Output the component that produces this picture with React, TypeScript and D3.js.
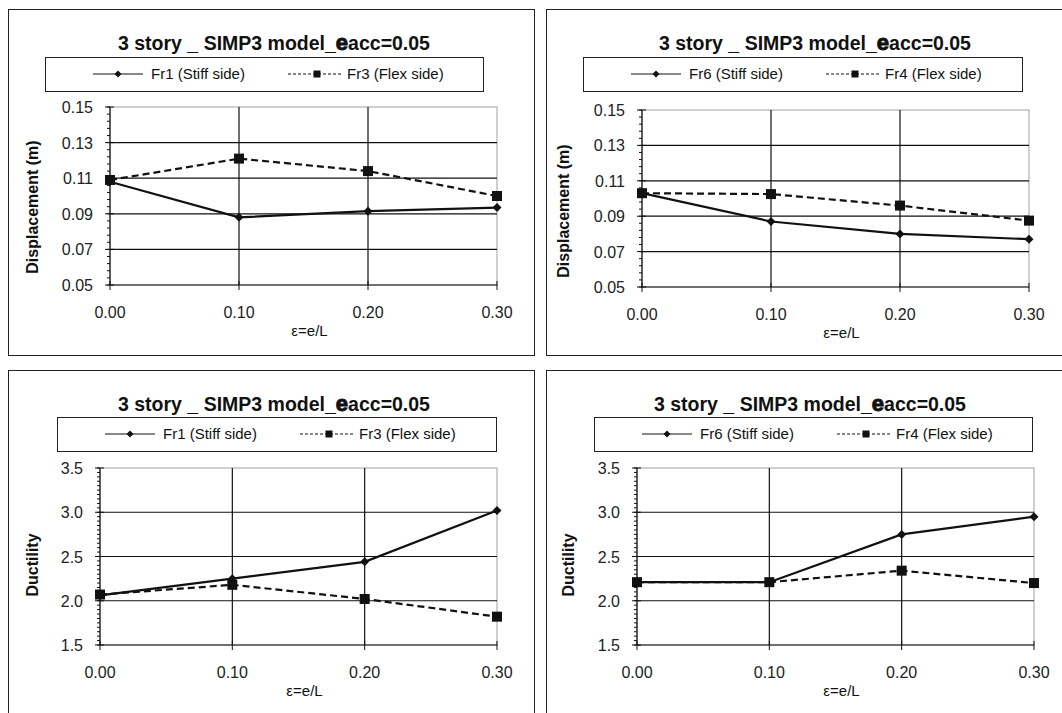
import React from "react";
import { scaleLinear, line, range } from "d3";

const eps = [0, 0.1, 0.2, 0.3];
const xTickLabels = ["0.00", "0.10", "0.20", "0.30"];

const dispTicks = [0.05, 0.07, 0.09, 0.11, 0.13, 0.15];
const ductTicks = [1.5, 2.0, 2.5, 3.0, 3.5];

const dispFr1 = [0.108, 0.088, 0.0915, 0.0935];
const dispFr3 = [0.109, 0.121, 0.114, 0.1];
const dispFr6 = [0.103, 0.087, 0.08, 0.077];
const dispFr4 = [0.103, 0.1025, 0.096, 0.0875];

const ductFr1 = [2.06, 2.25, 2.44, 3.02];
const ductFr3 = [2.07, 2.18, 2.02, 1.82];
const ductFr6 = [2.21, 2.21, 2.75, 2.95];
const ductFr4 = [2.21, 2.21, 2.34, 2.2];

const FONT = "'Liberation Sans', Arial, sans-serif";

interface PanelProps {
  box: { x: number; y: number; w: number; h: number };
  titleX: number;
  legend: { x: number; y: number; w: number; h: number };
  plot: { left: number; right: number; top: number; bottom: number };
  yTicks: number[];
  yFmt: (v: number) => string;
  minorStep: number;
  yTitle: string;
  yTitleX: number;
  yTitleY: number;
  stiffName: string;
  flexName: string;
  stiff: number[];
  flex: number[];
}

const Panel: React.FC<PanelProps> = ({
  box,
  titleX,
  legend,
  plot,
  yTicks,
  yFmt,
  minorStep,
  yTitle,
  yTitleX,
  yTitleY,
  stiffName,
  flexName,
  stiff,
  flex,
}) => {
  const x = scaleLinear().domain([0, 0.3]).range([plot.left, plot.right]);
  const y = scaleLinear()
    .domain([yTicks[0], yTicks[yTicks.length - 1]])
    .range([plot.bottom, plot.top]);

  const lineGen = line<number>()
    .x((_, i) => x(eps[i]))
    .y((d) => y(d));

  const minors = range(yTicks[0], yTicks[yTicks.length - 1] + minorStep / 2, minorStep);
  const ly = legend.y + legend.h / 2;

  return (
    <g fontFamily={FONT}>
      <rect x={box.x + 0.5} y={box.y + 0.5} width={box.w} height={box.h} fill="white" stroke="#222" />
      <text x={titleX} y={box.y + 41} textAnchor="middle" fontSize={19.5} fontWeight="bold" fill="#111">
        3 story _ SIMP3 model_
        <tspan fontSize={22} stroke="#111" strokeWidth={1}>e</tspan>
        acc=0.05
      </text>

      <rect x={legend.x + 0.5} y={legend.y + 0.5} width={legend.w} height={legend.h} fill="white" stroke="#222" />
      <line x1={legend.x + 48} x2={legend.x + 98} y1={ly} y2={ly} stroke="#111" strokeWidth={1.2} />
      <path d={`M${legend.x + 73},${ly - 3.5}l3.5,3.5l-3.5,3.5l-3.5,-3.5z`} fill="#111" />
      <text x={legend.x + 106} y={ly + 5} fontSize={15} fill="#111">{stiffName}</text>
      <line x1={legend.x + 243} x2={legend.x + 298} y1={ly} y2={ly} stroke="#111" strokeWidth={1.2} strokeDasharray="3,2" />
      <rect x={legend.x + 268.5} y={ly - 3.5} width={7} height={7} fill="#111" />
      <text x={legend.x + 302} y={ly + 5} fontSize={15} fill="#111">{flexName}</text>

      {/* plot area border */}
      <rect x={plot.left} y={plot.top} width={plot.right - plot.left} height={plot.bottom - plot.top} fill="none" stroke="#a0a0a0" />
      {yTicks.slice(1, -1).map((t) => (
        <line key={t} x1={plot.left} x2={plot.right} y1={y(t)} y2={y(t)} stroke="#111" strokeWidth={1.2} />
      ))}
      {eps.slice(1, -1).map((e) => (
        <line key={e} x1={x(e)} x2={x(e)} y1={plot.top} y2={plot.bottom} stroke="#111" strokeWidth={1.2} />
      ))}

      {/* axes */}
      <line x1={plot.left} x2={plot.left} y1={plot.top} y2={plot.bottom} stroke="#111" strokeWidth={1.2} />
      <line x1={plot.left} x2={plot.right} y1={plot.bottom} y2={plot.bottom} stroke="#111" strokeWidth={1.2} />
      {minors.map((m, i) => (
        <line key={i} x1={plot.left - 3} x2={plot.left} y1={y(m)} y2={y(m)} stroke="#111" />
      ))}
      {yTicks.map((t) => (
        <g key={t}>
          <line x1={plot.left - 5} x2={plot.left + 4} y1={y(t)} y2={y(t)} stroke="#111" />
          <text x={plot.left - 17} y={y(t) + 6} textAnchor="end" fontSize={16} fill="#222">{yFmt(t)}</text>
        </g>
      ))}
      {eps.map((e, i) => (
        <g key={e}>
          <line x1={x(e)} x2={x(e)} y1={plot.bottom - 4} y2={plot.bottom + 5} stroke="#111" />
          <text x={x(e)} y={plot.bottom + 33} textAnchor="middle" fontSize={16} fill="#222">{xTickLabels[i]}</text>
        </g>
      ))}
      <text x={(plot.left + plot.right) / 2 + 6} y={plot.bottom + 51} textAnchor="middle" fontSize={15} fill="#111">
        ε=e/L
      </text>
      <text
        transform={`translate(${yTitleX},${yTitleY}) rotate(-90)`}
        textAnchor="middle"
        fontSize={16}
        fontWeight="bold"
        fill="#111"
        dy={5}
      >
        {yTitle}
      </text>

      {/* series */}
      <path d={lineGen(flex) || ""} fill="none" stroke="#111" strokeWidth={2.2} strokeDasharray="7,4" />
      <path d={lineGen(stiff) || ""} fill="none" stroke="#111" strokeWidth={2.2} />
      {flex.map((d, i) => (
        <rect key={i} x={x(eps[i]) - 5} y={y(d) - 5} width={10} height={10} fill="#111" />
      ))}
      {stiff.map((d, i) => (
        <path key={i} d={`M${x(eps[i])},${y(d) - 4.5}l4.5,4.5l-4.5,4.5l-4.5,-4.5z`} fill="#111" />
      ))}
    </g>
  );
};

const fmt2 = (v: number) => v.toFixed(2);
const fmt1 = (v: number) => v.toFixed(1);

export default function App() {
  return (
    <svg
      width={1062}
      height={713}
      style={{ position: "absolute", left: 0, top: 0, background: "white" }}
    >
      <Panel
        box={{ x: 8, y: 9, w: 526, h: 346 }}
        titleX={274}
        legend={{ x: 45, y: 57, w: 438, h: 34 }}
        plot={{ left: 110, right: 497, top: 107, bottom: 285 }}
        yTicks={dispTicks}
        yFmt={fmt2}
        minorStep={0.004}
        yTitle="Displacement (m)"
        yTitleX={33}
        yTitleY={207}
        stiffName="Fr1 (Stiff side)"
        flexName="Fr3 (Flex side)"
        stiff={dispFr1}
        flex={dispFr3}
      />
      <Panel
        box={{ x: 546, y: 9, w: 530, h: 346 }}
        titleX={815}
        legend={{ x: 583, y: 57, w: 439, h: 34 }}
        plot={{ left: 642, right: 1029, top: 110, bottom: 287 }}
        yTicks={dispTicks}
        yFmt={fmt2}
        minorStep={0.004}
        yTitle="Displacement (m)"
        yTitleX={564}
        yTitleY={211}
        stiffName="Fr6 (Stiff side)"
        flexName="Fr4 (Flex side)"
        stiff={dispFr6}
        flex={dispFr4}
      />
      <Panel
        box={{ x: 8, y: 370, w: 526, h: 360 }}
        titleX={274}
        legend={{ x: 57, y: 417, w: 439, h: 34 }}
        plot={{ left: 100, right: 497, top: 468, bottom: 645 }}
        yTicks={ductTicks}
        yFmt={fmt1}
        minorStep={0.05}
        yTitle="Ductility"
        yTitleX={33}
        yTitleY={565}
        stiffName="Fr1 (Stiff side)"
        flexName="Fr3 (Flex side)"
        stiff={ductFr1}
        flex={ductFr3}
      />
      <Panel
        box={{ x: 546, y: 370, w: 530, h: 360 }}
        titleX={810}
        legend={{ x: 594, y: 417, w: 438, h: 34 }}
        plot={{ left: 637, right: 1034, top: 468, bottom: 645 }}
        yTicks={ductTicks}
        yFmt={fmt1}
        minorStep={0.05}
        yTitle="Ductility"
        yTitleX={569}
        yTitleY={565}
        stiffName="Fr6 (Stiff side)"
        flexName="Fr4 (Flex side)"
        stiff={ductFr6}
        flex={ductFr4}
      />
    </svg>
  );
}
